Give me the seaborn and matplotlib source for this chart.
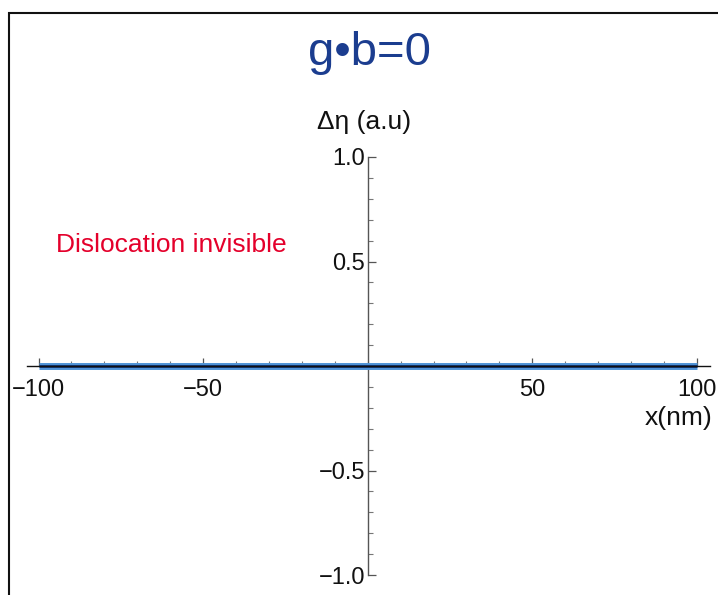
import matplotlib
matplotlib.use("Agg")
import matplotlib.pyplot as plt
import matplotlib.patches as mpatches
from matplotlib.ticker import MultipleLocator, FixedLocator
import seaborn as sns
import pandas as pd

# ---- data ----
x_nm = [-100, 100]
delta_eta = [0.0, 0.0]
x_tick_values = [-100, -50, 50, 100]
x_tick_labels = ["\u2212100", "\u221250", "50", "100"]
y_tick_values = [-1.0, -0.5, 0.5, 1.0]
y_tick_labels = ["\u22121.0", "\u22120.5", "0.5", "1.0"]
title_text = "g\u2022b=0"
annotation_text = "Dislocation invisible"
x_label = "x(nm)"
y_label = "\u0394\u03b7 (a.u)"

sns.set_theme(style="white")
plt.rcParams["font.family"] = ["Liberation Sans", "DejaVu Sans"]

W, H = 718, 595
fig = plt.figure(figsize=(W / 100, H / 100), dpi=100)

def fx(px):
    return px / W

def fy(py):
    return 1 - py / H

ax = fig.add_axes([fx(27), fy(575), fx(710) - fx(27), fy(157) - fy(575)])
ax.set_facecolor("none")

df = pd.DataFrame({"x": x_nm, "y": delta_eta})
sns.lineplot(data=df, x="x", y="y", ax=ax, color="#4f93d6", linewidth=5.0,
             solid_capstyle="butt", zorder=3)
sns.lineplot(data=df, x="x", y="y", ax=ax, color="#0e2f6e", linewidth=2.0,
             solid_capstyle="butt", zorder=4)

ax.set_xlim(-103.5, 104)
ax.set_ylim(-1.0, 1.0)

for s in ["top", "right"]:
    ax.spines[s].set_visible(False)
ax.spines["left"].set_position(("data", 0))
ax.spines["bottom"].set_position(("data", 0))
ax.spines["left"].set_color("#555555")
ax.spines["left"].set_linewidth(1.0)
ax.spines["bottom"].set_color("#111111")
ax.spines["bottom"].set_linewidth(1.0)
ax.spines["bottom"].set_zorder(5)

ax.xaxis.set_major_locator(FixedLocator(x_tick_values))
ax.set_xticklabels(x_tick_labels)
ax.xaxis.set_minor_locator(MultipleLocator(10))
ax.yaxis.set_major_locator(FixedLocator(y_tick_values))
ax.set_yticklabels(y_tick_labels)
ax.yaxis.set_minor_locator(MultipleLocator(0.1))

ax.tick_params(axis="x", which="major", direction="in", length=6, width=0.9,
               color="#555555", labelsize=17, pad=9, bottom=True)
ax.tick_params(axis="x", which="minor", direction="in", length=3.5, width=0.8,
               color="#777777", bottom=True)
ax.tick_params(axis="y", which="major", direction="in", length=6, width=0.9,
               color="#555555", labelsize=17, pad=2, left=True)
ax.tick_params(axis="y", which="minor", direction="in", length=3.5, width=0.8,
               color="#777777", left=True)
for lbl in ax.get_xticklabels() + ax.get_yticklabels():
    lbl.set_color("#111111")

ax.set_xlabel("")
ax.set_ylabel("")

fig.text(fx(712), fy(418), x_label, ha="right", va="center", fontsize=19,
         color="#111111")
fig.text(fx(364), fy(122), y_label, ha="center", va="center", fontsize=19,
         color="#111111")
fig.text(fx(369), fy(53), title_text, ha="center", va="center", fontsize=34,
         color="#1b3d8f")
fig.text(fx(171), fy(245), annotation_text, ha="center", va="center",
         fontsize=19, color="#e4002b")

border = mpatches.Rectangle((fx(9), -0.2), 2.0, fy(13) + 0.2,
                            transform=fig.transFigure, fill=False,
                            edgecolor="#111111", linewidth=1.5)
fig.patches.append(border)

fig.savefig("out.png", dpi=100, facecolor="white")
